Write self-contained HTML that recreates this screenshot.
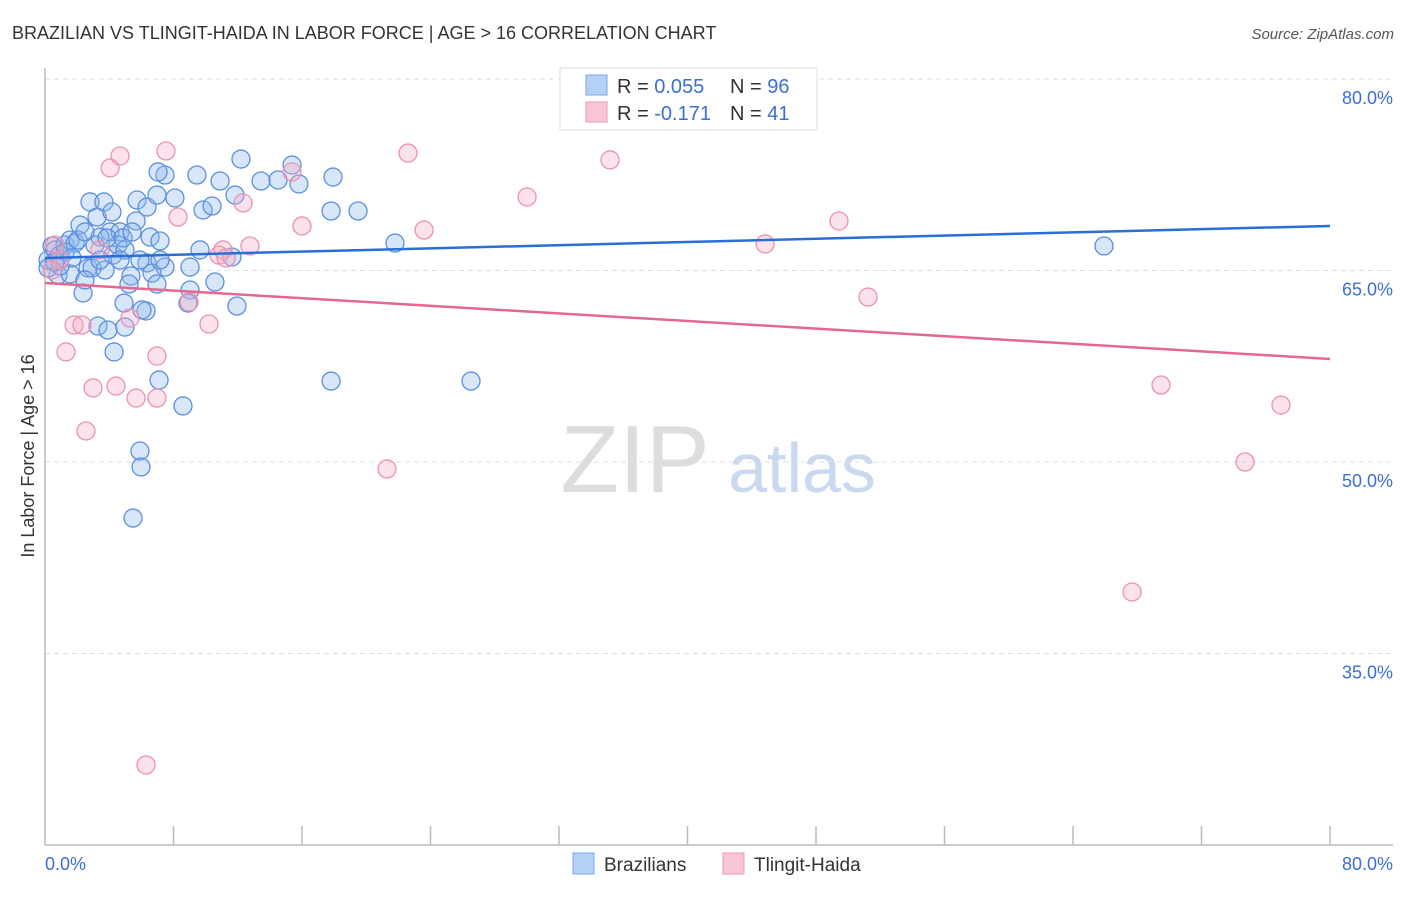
<!DOCTYPE html>
<html><head><meta charset="utf-8"><style>
body{margin:0;background:#fff;}
svg text{font-family:"Liberation Sans",sans-serif;}
</style></head><body>
<svg id="chart" width="1406" height="892" xmlns="http://www.w3.org/2000/svg">
<text x="12" y="39" font-size="18" fill="#333">BRAZILIAN VS TLINGIT-HAIDA IN LABOR FORCE | AGE &gt; 16 CORRELATION CHART</text>
<text x="1394" y="39" font-size="15" fill="#555" font-style="italic" text-anchor="end">Source: ZipAtlas.com</text>
<g>
<text x="635" y="492" font-size="96" fill="#ddd" font-family="Liberation Serif,serif" text-anchor="middle">ZIP</text>
<text x="802" y="492" font-size="70" fill="#c9d9ef" text-anchor="middle">atlas</text>
</g>
<g id="grid"></g>
<g id="axes"></g>
<g id="pts"></g>
<g id="trend"></g>
<text transform="translate(34,456) rotate(-90)" font-size="18" fill="#333" text-anchor="middle">In Labor Force | Age &gt; 16</text>
<g>
<rect x="560" y="68" width="257" height="62" fill="#fff" stroke="#ddd"/>
<rect x="586" y="75" width="21" height="20" fill="#b5d0f5" stroke="#7aa7e6"/>
<text x="617" y="93" font-size="20" fill="#333">R = <tspan fill="#3b6fd4">0.055</tspan></text>
<text x="730" y="93" font-size="20" fill="#333">N = <tspan fill="#3b6fd4">96</tspan></text>
<rect x="586" y="102" width="21" height="20" fill="#f8c6d5" stroke="#eb99b4"/>
<text x="617" y="120" font-size="20" fill="#333">R = <tspan fill="#3b6fd4"> -0.171</tspan></text>
<text x="730" y="120" font-size="20" fill="#333">N = <tspan fill="#3b6fd4"> 41</tspan></text>
</g>
<g>
<rect x="573" y="853" width="21" height="21" fill="#b5d0f5" stroke="#7aa7e6"/>
<text x="604" y="871" font-size="19" fill="#333">Brazilians</text>
<rect x="723" y="853" width="21" height="21" fill="#f8c6d5" stroke="#eb99b4"/>
<text x="754" y="871" font-size="19" fill="#333">Tlingit-Haida</text>
</g>
</svg>
<script>
const blueX=[0.44,0.19,0.62,0.93,1.25,1.56,1.87,0.81,1.56,2.37,2.18,2.80,3.24,3.67,4.17,4.05,4.67,3.42,3.11,2.68,2.93,3.74,2.49,4.23,4.54,4.98,5.67,5.73,6.35,6.54,7.16,6.97,7.47,7.04,8.09,9.46,9.84,10.40,10.90,11.83,12.20,13.45,14.51,15.38,15.81,17.93,17.81,19.49,21.79,65.93,6.35,7.47,6.66,9.03,5.35,5.23,6.97,4.92,6.29,9.03,8.90,10.58,11.64,11.95,3.30,3.92,4.98,4.30,7.10,8.59,17.81,26.52,5.91,5.98,5.48,0.93,2.05,1.25,5.91,4.67,7.16,3.42,9.65,0.19,0.62,1.68,2.49,3.86,4.86,5.42,6.04];
const blueY=[66.92,65.82,66.61,66.21,67.0,67.39,67.15,64.65,64.73,63.24,68.56,70.37,69.19,70.37,69.58,68.02,68.02,67.62,67.0,65.20,65.20,65.04,64.26,66.21,67.0,66.61,68.88,70.52,69.97,67.62,67.31,70.91,72.48,72.72,70.68,72.48,69.74,70.05,72.01,70.91,73.73,72.01,72.09,73.26,71.78,72.32,69.66,69.66,67.15,66.92,65.59,65.27,64.80,65.27,64.57,63.94,63.94,62.45,61.83,63.47,62.45,64.10,66.06,62.22,60.65,60.34,60.57,58.62,56.42,54.39,56.34,56.34,50.86,49.61,45.61,65.35,67.39,66.45,65.82,65.82,65.82,65.82,66.61,65.20,65.67,65.98,68.02,67.55,67.55,68.02,61.91];
const pinkX=[4.05,4.67,7.53,8.28,12.33,15.38,16.0,22.60,23.60,30.01,35.18,36.61,49.43,44.83,51.24,69.48,76.95,74.71,67.68,21.29,6.29,6.97,6.97,5.67,4.42,2.99,2.55,1.31,1.81,2.30,5.29,8.97,10.21,10.83,11.08,12.76,11.27,3.42,0.62,0.93,0.44];
const pinkY=[73.03,73.97,74.36,69.19,70.29,72.72,68.49,74.20,68.17,70.76,73.66,76.71,68.88,67.08,62.92,56.03,54.46,50.0,39.82,49.45,26.27,58.30,55.01,55.01,55.95,55.80,52.43,58.62,60.73,60.73,61.28,62.53,60.81,66.21,66.61,66.92,65.98,66.61,67.0,65.82,65.04];
const blueTrend=[65.98,68.49];
const pinkTrend=[64.02,58.07];
const yTicks=[80,65,50,35];
const xTicks=[0,8,16,24,32,40,48,56,64,72,80];
const NS='http://www.w3.org/2000/svg';
const sx=v=>45+v/80*1285;
const sy=v=>79+(80-v)/15*191.5;
function mk(t,a,p){const e=document.createElementNS(NS,t);for(const k in a)e.setAttribute(k,a[k]);p.appendChild(e);return e;}
const grid=document.getElementById('grid'),axes=document.getElementById('axes');
yTicks.forEach(v=>{
 const l=mk('line',{x1:45,x2:1393,y1:sy(v),y2:sy(v),stroke:'#ddd','stroke-dasharray':'5,4'},grid);
 
 
 const t=mk('text',{x:1393,y:sy(v)+25,'font-size':18,fill:'#3b6fd4','text-anchor':'end'},axes);
 t.textContent=v.toFixed(1)+'%';
 
 
});
const ax=mk('line',{x1:45,x2:1393,y1:845,y2:845,stroke:'#bbb','stroke-width':1.5},axes);


const ay=mk('line',{x1:45,x2:45,y1:68,y2:845,stroke:'#bbb','stroke-width':1.5},axes);


xTicks.forEach((v,i)=>{
 if(i===0)return;
 const l=mk('line',{x1:sx(v),x2:sx(v),y1:826,y2:845,stroke:'#bbb','stroke-width':1.5},axes);
 
 
});
[[0,'start'],[80,'end']].forEach(([v,a])=>{
 const t=mk('text',{x:v===0?45:1393,y:870,'font-size':18,fill:'#3b6fd4','text-anchor':a},axes);
 t.textContent=v.toFixed(1)+'%';
 
 
});
const pts=document.getElementById('pts');
blueX.forEach((x,i)=>{
 const c=mk('circle',{cx:sx(x),cy:sy(blueY[i]),r:9,fill:'rgba(140,182,238,0.35)',stroke:'#5b90dc','stroke-width':1.3},pts);
 
 
});
pinkX.forEach((x,i)=>{
 const c=mk('circle',{cx:sx(x),cy:sy(pinkY[i]),r:9,fill:'rgba(246,172,196,0.35)',stroke:'#eb92b0','stroke-width':1.3},pts);
 
 
});
const tr=document.getElementById('trend');
const bl=mk('line',{x1:sx(0),x2:sx(80),y1:sy(blueTrend[0]),y2:sy(blueTrend[1]),stroke:'#2a6fd6','stroke-width':2.5},tr);


const pl=mk('line',{x1:sx(0),x2:sx(80),y1:sy(pinkTrend[0]),y2:sy(pinkTrend[1]),stroke:'#e5678f','stroke-width':2.5},tr);


</script>
</body></html>
